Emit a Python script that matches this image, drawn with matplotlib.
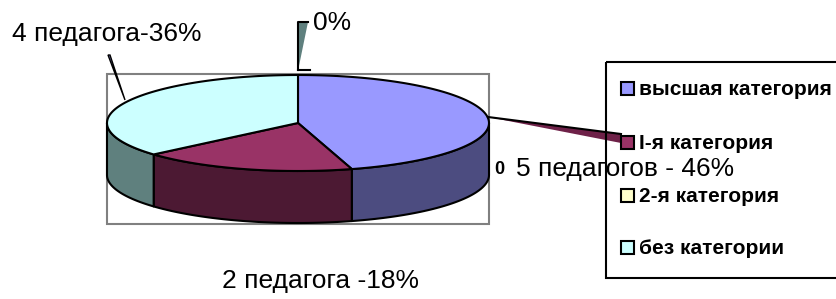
import numpy as np
import matplotlib.pyplot as plt
from matplotlib.patches import Polygon, Rectangle

plt.rcParams['font.family'] = ['Liberation Sans', 'DejaVu Sans']

# данные
categories = ['высшая категория', 'I-я категория', '2-я категория', 'без категории']
teachers = [5, 2, 0, 4]
top_colors = ['#9999FF', '#993366', '#FFFFCC', '#CCFFFF']
side_colors = ['#4C4C80', '#4C1933', '#80806A', '#5F807E']
data_labels = ['5 педагогов - 46%', '2 педагога -18%', '0%', '4 педагога-36%']

# геометрия псевдо-3D круга (в пикселях)
cx, cy = 298, 123
rx, ry = 191, 48
depth = 52

fig = plt.figure(figsize=(8.36, 2.99), dpi=100)
ax = fig.add_axes([0, 0, 1, 1])
ax.set_xlim(0, 836)
ax.set_ylim(299, 0)
ax.axis('off')


def pt(theta, dz=0):
    t = np.radians(theta)
    return cx + rx * np.cos(t), cy - ry * np.sin(t) + dz


# рамка области построения
ax.add_patch(Rectangle((107, 74), 382, 150, fill=False, ec='#808080', lw=1.5, zorder=1))

total = sum(teachers)
angles = []
start = 90.0
for v in teachers:
    sweep = 360.0 * v / total
    angles.append((start - sweep, start))
    start -= sweep

# боковые стенки (видна только передняя половина, 180..360)
for (a0, a1), col in zip(angles, side_colors):
    if a1 - a0 <= 0:
        continue
    for k in (0, -360):
        lo = max(a0 - k, 180)
        hi = min(a1 - k, 360)
        if hi <= lo:
            continue
        th = np.linspace(lo, hi, 60)
        upper = [pt(t) for t in th]
        lower = [pt(t, depth) for t in th[::-1]]
        ax.add_patch(Polygon(upper + lower, closed=True, fc=col, ec='black',
                             lw=1.5, zorder=2, joinstyle='round'))

# верхние секторы
for (a0, a1), col in zip(angles, top_colors):
    if a1 - a0 <= 0:
        continue
    th = np.linspace(a1, a0, 120)
    verts = [(cx, cy)] + [pt(t) for t in th]
    ax.add_patch(Polygon(verts, closed=True, fc=col, ec='black', lw=1.5,
                         zorder=3, joinstyle='round'))

# выноски
ax.add_patch(Polygon([(108, 55), (110, 55), (125, 100)], closed=True,
                     fc='#8080C0', ec='black', lw=1.0, zorder=4))
ax.add_patch(Polygon([(299, 22), (308, 22), (299, 66)], closed=True,
                     fc='#5F807E', ec='none', zorder=4))
ax.plot([298, 298, 308], [70, 22, 22], color='black', lw=1.5, zorder=5)
ax.plot([298, 310], [70, 70], color='black', lw=1.5, zorder=5)
ax.add_patch(Polygon([(488, 117), (621, 134), (621, 143)], closed=True,
                     fc='#6E2148', ec='none', zorder=4))
ax.plot([488, 621], [117, 134], color='black', lw=1.5, zorder=5)

# подписи данных
fs = 19
ax.text(12, 41, data_labels[3], fontsize=fs, ha='left', va='baseline', zorder=6)
ax.text(313, 30, data_labels[2], fontsize=fs, ha='left', va='baseline', zorder=6)
ax.text(494, 174, '0', fontsize=13, fontweight='bold', ha='left', va='baseline', zorder=6)
ax.text(516, 176, data_labels[0], fontsize=fs, ha='left', va='baseline', zorder=6)
ax.text(222, 288, data_labels[1], fontsize=fs, ha='left', va='baseline', zorder=6)

# легенда
ax.add_patch(Rectangle((606, 62), 240, 216, fill=False, ec='black', lw=1.5, zorder=7))
legend_base = [95, 149, 202, 254]
for name, col, y in zip(categories, top_colors, legend_base):
    ax.add_patch(Rectangle((621, y - 13), 13, 13, fc=col, ec='black', lw=1.5, zorder=7))
    ax.text(639, y, name, fontsize=15, fontweight='bold', ha='left', va='baseline', zorder=7)

fig.savefig('out.png', dpi=100)
